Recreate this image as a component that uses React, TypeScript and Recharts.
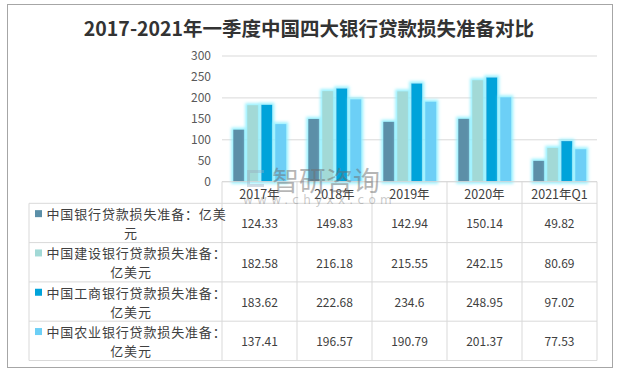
import React from 'react';
import { BarChart, Bar, XAxis, YAxis, CartesianGrid } from 'recharts';

const categories = ['2017年', '2018年', '2019年', '2020年', '2021年Q1'];
const seriesNames = [
  '中国银行贷款损失准备：亿美元',
  '中国建设银行贷款损失准备：亿美元',
  '中国工商银行贷款损失准备：亿美元',
  '中国农业银行贷款损失准备：亿美元',
];
const bocValues = [124.33, 149.83, 142.94, 150.14, 49.82];
const ccbValues = [182.58, 216.18, 215.55, 242.15, 80.69];
const icbcValues = [183.62, 222.68, 234.6, 248.95, 97.02];
const abcValues = [137.41, 196.57, 190.79, 201.37, 77.53];
const yTicks = [0, 50, 100, 150, 200, 250, 300];
const title = '2017-2021年一季度中国四大银行贷款损失准备对比';

const seriesKeys = ['boc', 'ccb', 'icbc', 'abc'];
const seriesValues = [bocValues, ccbValues, icbcValues, abcValues];
const colors = ['#5b8fa8', '#a2d9d6', '#00a3da', '#6ccff6'];

const data = categories.map((c, i) => {
  const row: any = { name: c };
  seriesKeys.forEach((k, s) => (row[k] = seriesValues[s][i]));
  return row;
});

const FONT = '"Noto Sans CJK SC", "Noto Sans", sans-serif';
const BAND = 75;
const HEADER_H = 21.6;
const ROW_H = 39.3;
const LEGEND_LEFT = 29;
const LINE = '#d9d9d9';
const TXT = '#404040';

function TableTick(props: any) {
  const { x, y, payload, index } = props;
  const left = x - BAND / 2;
  const right = x + BAND / 2;
  const bodyTop = y + HEADER_H;
  const bottom = bodyTop + ROW_H * 4;
  const els: any[] = [];
  els.push(<line key="vl" x1={left} y1={y} x2={left} y2={bottom} stroke={LINE} />);
  if (index === categories.length - 1) {
    els.push(<line key="vr" x1={right} y1={y} x2={right} y2={bottom} stroke={LINE} />);
  }
  els.push(
    <text key="h" x={x} y={y + HEADER_H / 2 + 1} textAnchor="middle" dominantBaseline="central" fontSize={12.5} fill={TXT} fontFamily={FONT}>
      {payload.value}
    </text>
  );
  for (let r = 0; r <= 4; r++) {
    const ly = bodyTop + r * ROW_H;
    els.push(<line key={'hl' + r} x1={r === 0 && index === 0 ? LEGEND_LEFT : left} y1={ly} x2={right} y2={ly} stroke={LINE} />);
  }
  seriesValues.forEach((vals, r) => {
    const cy = bodyTop + r * ROW_H + ROW_H / 2;
    els.push(
      <text key={'v' + r} x={x} y={cy} textAnchor="middle" dominantBaseline="central" fontSize={12} fill={TXT} fontFamily={FONT}>
        {String(vals[index])}
      </text>
    );
  });
  if (index === 0) {
    els.push(<line key="lvl" x1={LEGEND_LEFT} y1={bodyTop} x2={LEGEND_LEFT} y2={bottom} stroke={LINE} />);
    for (let r = 1; r <= 4; r++) {
      const ly = bodyTop + r * ROW_H;
      els.push(<line key={'lhl' + r} x1={LEGEND_LEFT} y1={ly} x2={left} y2={ly} stroke={LINE} />);
    }
    seriesNames.forEach((name, r) => {
      const cy = bodyTop + r * ROW_H + ROW_H / 2;
      const l1 = name.slice(0, 13);
      const l2 = name.slice(13);
      els.push(<rect key={'sq' + r} x={35} y={cy - 9.3 - 3.5} width={7} height={7} fill={colors[r]} />);
      els.push(
        <text key={'l1' + r} x={46.5} y={cy - 9.3} dominantBaseline="central" fontSize={13} letterSpacing={0.85} fill={TXT} fontFamily={FONT}>
          {l1}
        </text>
      );
      els.push(
        <text key={'l2' + r} x={131} y={cy + 9.6} textAnchor="middle" dominantBaseline="central" fontSize={13} letterSpacing={0.85} fill={TXT} fontFamily={FONT}>
          {l2}
        </text>
      );
    });
  }
  return <g>{els}</g>;
}

const GlowBar = (p: any) => (
  <rect x={p.x} y={p.y} width={p.width} height={p.height} fill={p.fill} filter="url(#barGlow)" />
);

export default function App() {
  return (
    <div style={{ position: 'absolute', left: 0, top: 0, width: 625, height: 375, background: '#fff', fontFamily: FONT }}>
      <svg width={0} height={0} style={{ position: 'absolute' }}>
        <defs>
          <filter id="barGlow" x="-70%" y="-20%" width="240%" height="140%">
            <feMorphology in="SourceAlpha" operator="dilate" radius="1.5" result="d" />
            <feGaussianBlur in="d" stdDeviation="1.6" result="b" />
            <feFlood floodColor="#8ff0ff" floodOpacity="0.9" />
            <feComposite in2="b" operator="in" result="g" />
            <feMerge>
              <feMergeNode in="g" />
              <feMergeNode in="SourceGraphic" />
            </feMerge>
          </filter>
        </defs>
      </svg>
      <div
        style={{
          position: 'absolute', left: 7, top: 4, width: 606, height: 364,
          border: '1.5px solid #a6a6a6', boxSizing: 'border-box',
        }}
      />
      <div
        style={{
          position: 'absolute', left: 0, width: 618, top: 14, textAlign: 'center',
          fontSize: 19.5, fontWeight: 'bold', color: '#333', lineHeight: '28px', fontFamily: FONT,
        }}
      >
        {title}
      </div>
      <div style={{ position: 'absolute', left: 0, top: 0 }}>
        <BarChart
          width={625}
          height={375}
          data={data}
          margin={{ top: 56, right: 28, bottom: 0, left: 182 }}
          barCategoryGap="15%"
          barGap={3}
        >
          <CartesianGrid vertical={false} stroke={LINE} />
          <YAxis
            domain={[0, 300]}
            ticks={yTicks}
            width={40}
            axisLine={false}
            tickLine={false}
            tickSize={0}
            tickMargin={11}
            tick={{ fontSize: 12, fill: '#595959', fontFamily: FONT }}
          />
          <XAxis
            dataKey="name"
            height={193.3}
            interval={0}
            axisLine={{ stroke: LINE }}
            tickLine={false}
            tickSize={0}
            tickMargin={0}
            tick={(p: any) => <TableTick {...p} />}
          />
          {seriesKeys.map((k, i) => (
            <Bar key={k} dataKey={k} fill={colors[i]} isAnimationActive={false} shape={GlowBar} />
          ))}
        </BarChart>
      </div>
      <div style={{ position: 'absolute', left: 247, top: 170, width: 17, height: 17, border: '3px solid rgba(150,170,190,0.4)', borderRight: 'none', boxSizing: 'border-box', pointerEvents: 'none' }} />
      <div style={{ position: 'absolute', left: 272, top: 165, fontSize: 27, color: 'rgba(110,110,110,0.5)', lineHeight: '30px', fontFamily: FONT, pointerEvents: 'none' }}>
        智研咨询
      </div>
      <div style={{ position: 'absolute', left: 243, top: 192, fontSize: 12, letterSpacing: 4.3, color: 'rgba(120,120,120,0.4)', lineHeight: '16px', fontFamily: '"DejaVu Sans", sans-serif', pointerEvents: 'none' }}>
        www.chyxx.com
      </div>
    </div>
  );
}
